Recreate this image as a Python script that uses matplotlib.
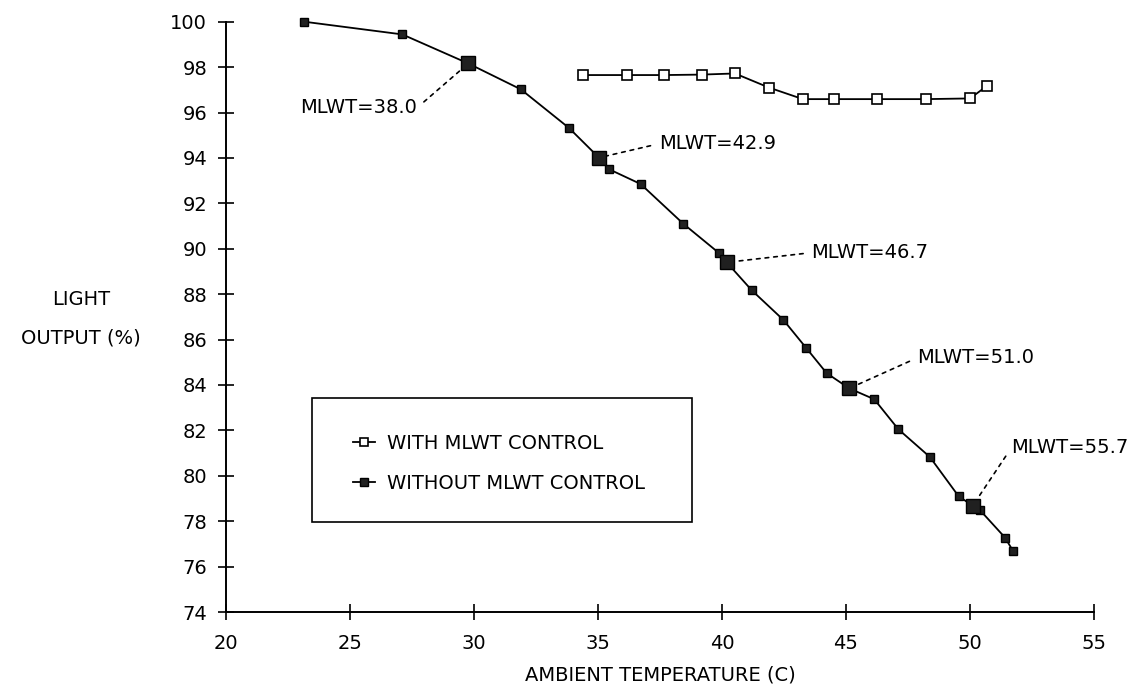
import matplotlib
matplotlib.use("Agg")
import matplotlib.pyplot as plt
from matplotlib.patches import Rectangle

plt.rcParams['font.family'] = ['DejaVu Sans']

# ---- data ----
without_x = [23.15, 27.11, 29.77, 31.89, 33.83, 35.04, 35.45, 36.72, 38.44, 39.88,
             40.19, 41.20, 42.47, 43.38, 44.22, 45.13, 46.14, 47.11, 48.38, 49.54,
             50.11, 50.40, 51.41, 51.74]
without_y = [100.0, 99.44, 98.16, 97.02, 95.32, 94.01, 93.50, 92.85, 91.10, 89.81,
             89.40, 88.17, 86.87, 85.65, 84.52, 83.85, 83.37, 82.05, 80.83, 79.10,
             78.68, 78.49, 77.28, 76.68]
with_x = [34.38, 36.15, 37.67, 39.18, 40.52, 41.89, 43.26, 44.51, 46.27, 48.22, 50.00, 50.67]
with_y = [97.65, 97.65, 97.65, 97.67, 97.72, 97.10, 96.59, 96.59, 96.59, 96.59, 96.62, 97.16]

mlwt_idx = [2, 5, 10, 15, 20]
mlwt_labels = ["MLWT=38.0", "MLWT=42.9", "MLWT=46.7", "MLWT=51.0", "MLWT=55.7"]

series_labels = ["WITH MLWT CONTROL", "WITHOUT MLWT CONTROL"]
x_ticks = [20, 25, 30, 35, 40, 45, 50, 55]
y_ticks = [74, 76, 78, 80, 82, 84, 86, 88, 90, 92, 94, 96, 98, 100]
x_label = "AMBIENT TEMPERATURE (C)"
y_label = "LIGHT\nOUTPUT (%)"

# ---- layout ----
W, H = 1132, 691
fig = plt.figure(figsize=(W / 100, H / 100), dpi=100)
ax = fig.add_axes([226 / W, 79 / H, 868 / W, 590.3 / H])

FS = 14
fill_col = '#202020'

l_with, = ax.plot(with_x, with_y, color='black', lw=1.3, marker='s', ms=6.5,
                  mfc='white', mec='black', mew=1.2, clip_on=False, zorder=3)
l_without, = ax.plot(without_x, without_y, color='black', lw=1.3, marker='s', ms=5.8,
                     mfc=fill_col, mec='black', mew=1.0, clip_on=False, zorder=3)
ax.plot([without_x[i] for i in mlwt_idx], [without_y[i] for i in mlwt_idx],
        ls='none', marker='s', ms=10, mfc=fill_col, mec='black', mew=1.0,
        clip_on=False, zorder=4)

# annotations (offsets in points)
offsets = [(-37, -32), (43, 10), (61, 7), (49, 22), (28, 42)]
for lab, i, off in zip(mlwt_labels, mlwt_idx, offsets):
    left_side = off[0] < 0
    ax.annotate(lab, xy=(without_x[i], without_y[i]), xytext=off,
                textcoords='offset points', fontsize=FS,
                ha='right' if left_side else 'left', va='center',
                arrowprops=dict(arrowstyle='-', color='black', lw=1.2,
                                linestyle=(0, (2.2, 3.0)),
                                shrinkA=4, shrinkB=6,
                                relpos=(1, 0.5) if left_side else (0, 0.5)))

ax.set_xlim(20, 55)
ax.set_ylim(74, 100)
ax.set_xticks(x_ticks)
ax.set_yticks(y_ticks)
ax.tick_params(direction='inout', length=11, width=1.2, labelsize=FS, color='black')
ax.tick_params(axis='y', pad=8)
ax.tick_params(axis='x', pad=10)
for s in ['top', 'right']:
    ax.spines[s].set_visible(False)
for s in ['left', 'bottom']:
    ax.spines[s].set_linewidth(1.4)

ax.set_xlabel(x_label, fontsize=FS, labelpad=9)
ax.set_ylabel(y_label, fontsize=FS, rotation=0, linespacing=2.3, ha='center', va='center')
ax.yaxis.set_label_coords(-0.167, 0.497)

# legend
ax.legend([l_with, l_without], series_labels, loc='center left',
          bbox_to_anchor=(353 / W, 1 - 463.4 / H), bbox_transform=fig.transFigure,
          frameon=False, borderpad=0, borderaxespad=0, fontsize=FS,
          handlelength=1.15, handletextpad=0.6, labelspacing=1.1, markerscale=0.9)
fig.add_artist(Rectangle((311.7 / W, 1 - 521.7 / H), 380 / W, 123.4 / H,
                         transform=fig.transFigure, fill=False, lw=1.2, ec='black'))

fig.savefig("out.png", dpi=100)
